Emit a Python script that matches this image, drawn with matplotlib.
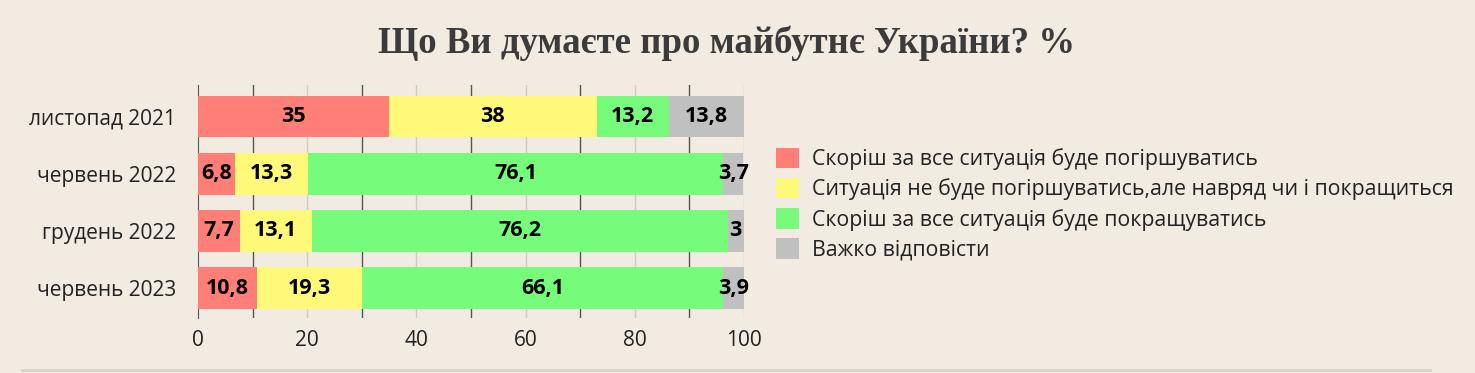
import matplotlib
matplotlib.use("Agg")
import matplotlib.pyplot as plt
from matplotlib.patches import Patch
from matplotlib.lines import Line2D

categories = ["листопад 2021", "червень 2022", "грудень 2022", "червень 2023"]
series_names = [
    "Скоріш за все ситуація буде погіршуватись",
    "Ситуація не буде погіршуватись,але навряд чи і покращиться",
    "Скоріш за все ситуація буде покращуватись",
    "Важко відповісти",
]
worse = [35, 6.8, 7.7, 10.8]
same = [38, 13.3, 13.1, 19.3]
better = [13.2, 76.1, 76.2, 66.1]
hard = [13.8, 3.7, 3.0, 3.9]
series = [worse, same, better, hard]
colors = ["#FF7F78", "#FFF97A", "#76FC7A", "#C0C0C0"]
title = "Що Ви думаєте про майбутнє України? %"
xticks = [0, 20, 40, 60, 80, 100]

bg = "#F1EBE1"
fig = plt.figure(figsize=(14.75, 3.73), dpi=100, facecolor=bg)
ax = fig.add_axes([198/1475, 1-318/373, (744-198)/1475, (318-85)/373])
ax.set_facecolor(bg)

def fmt(v):
    s = ("%.1f" % v).rstrip("0").rstrip(".")
    return s.replace(".", ",")

ypos = list(range(len(categories)))
left = [0.0] * len(categories)
for vals, col in zip(series, colors):
    ax.barh(ypos, vals, left=left, height=0.73, color=col, zorder=2)
    for i, v in enumerate(vals):
        ax.text(left[i] + v / 2, ypos[i], fmt(v), ha="center", va="center",
                fontsize=15.5, fontweight="bold", color="black",
                family=["Open Sans", "DejaVu Sans"], zorder=3)
    left = [l + v for l, v in zip(left, vals)]

ax.set_xlim(0, 100)
ax.set_ylim(3.52, -0.55)
for x in range(10, 100, 20):
    ax.axvline(x, color="#555555", lw=1.0, zorder=1)
for x in range(20, 101, 20):
    ax.axvline(x, color="#cfcac2", lw=1.0, zorder=1)
for s in ["top", "right", "bottom"]:
    ax.spines[s].set_visible(False)
ax.spines["left"].set_color("#555555")
ax.spines["left"].set_zorder(1)

ax.set_xticks(xticks)
ax.set_xticklabels([str(t) for t in xticks], family=["Open Sans", "DejaVu Sans"],
                   fontsize=15, color="#222222")
ax.tick_params(axis="x", length=0, pad=9)
ax.set_yticks(ypos)
ax.set_yticklabels(categories, family=["Open Sans", "DejaVu Sans"], fontsize=15,
                   color="#222222")
ax.tick_params(axis="y", length=0, pad=16)

handles = [Patch(facecolor=c, edgecolor="none") for c in colors]
leg = fig.legend(handles, series_names, loc="upper left",
                 bbox_to_anchor=(776/1475, 1-148/373), frameon=False,
                 prop={"family": ["Open Sans", "DejaVu Sans"], "size": 15.3},
                 handlelength=1.1, handleheight=1.1, handletextpad=0.6,
                 labelspacing=0.36, borderaxespad=0, borderpad=0)
for t in leg.get_texts():
    t.set_color("#222222")

fig.text(727/1475, 1-43/373, title, ha="center", va="center",
         family=["Liberation Serif", "DejaVu Serif"], fontweight="bold",
         fontsize=26.5, color="#3b3b3b")

fig.add_artist(Line2D([22/1475, 1430/1475], [1-370/373, 1-370/373],
                      color="#d9d4cb", lw=2, transform=fig.transFigure))

fig.savefig("out.png", dpi=100, facecolor=bg)
